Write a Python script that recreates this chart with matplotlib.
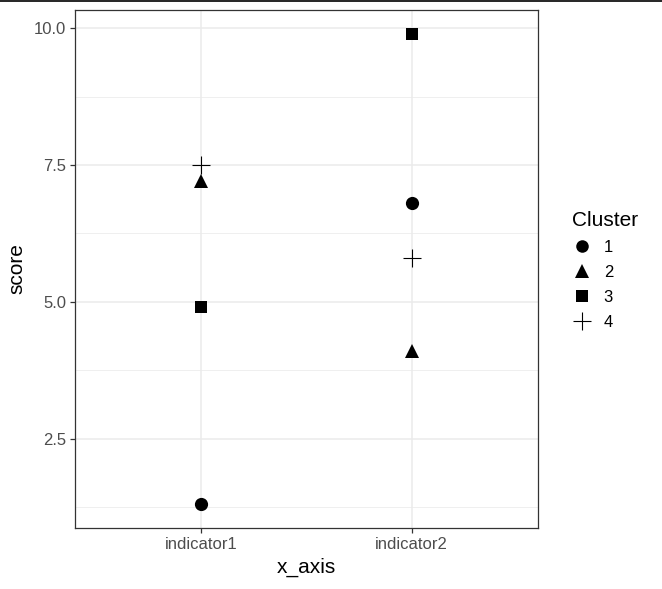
import numpy as np
import matplotlib
matplotlib.use('Agg')
import matplotlib.pyplot as plt
from matplotlib.lines import Line2D

plt.rcParams['font.family'] = ['Liberation Sans', 'DejaVu Sans']

indicators = ['indicator1', 'indicator2']
clusters = ['1', '2', '3', '4']
# score per cluster, for indicator1 / indicator2
scores = {
    '1': [1.3, 6.8],
    '2': [7.2, 4.1],
    '3': [4.9, 9.9],
    '4': [7.5, 5.8],
}
y_ticks = [2.5, 5.0, 7.5, 10.0]

markers = {'1': 'o', '2': '^', '3': 's', '4': '+'}
sizes = {'1': 9.5, '2': 10.5, '3': 8.8, '4': 13}

W, H = 662, 589
fig = plt.figure(figsize=(W / 100, H / 100), dpi=100, facecolor='white')
ax = fig.add_axes([75 / W, (H - 528) / H, 463 / W, 518 / H])

xpos = np.arange(1, len(indicators) + 1)
for c in clusters:
    ax.plot(xpos, scores[c], linestyle='none', marker=markers[c],
            markersize=sizes[c], color='black', markeredgewidth=0.8 if c == '4' else 0,
            zorder=3)

allv = np.concatenate([scores[c] for c in clusters])
lo, hi = allv.min(), allv.max()
pad = (hi - lo) * 0.05
ax.set_ylim(lo - pad, hi + pad)
ax.set_xlim(0.4, 2.6)

ax.set_xticks(xpos)
ax.set_xticklabels(indicators)
ax.set_yticks(y_ticks)
ax.set_yticklabels([f'{v:.1f}' for v in y_ticks])
minor = [(a + b) / 2 for a, b in zip(y_ticks[:-1], y_ticks[1:])] + [y_ticks[0] - 1.25]
ax.set_yticks(minor, minor=True)
ax.tick_params(axis='y', which='minor', length=0)

ax.grid(True, which='major', color='#EBEBEB', linewidth=1.1, zorder=0)
ax.grid(True, which='minor', axis='y', color='#EBEBEB', linewidth=0.55, zorder=0)
ax.set_axisbelow(True)
for s in ax.spines.values():
    s.set_color('#333333')
    s.set_linewidth(0.9)
ax.tick_params(axis='both', which='major', length=3.5, width=0.9, color='#333333',
               labelsize=12, labelcolor='#4D4D4D', pad=3)

ax.set_xlabel('x_axis', fontsize=15, color='black', labelpad=4)
ax.set_ylabel('score', fontsize=15, color='black', labelpad=5)

handles = [Line2D([], [], linestyle='none', marker=markers[c], markersize=sizes[c] * 0.95,
                  color='black', markeredgewidth=0.8 if c == '4' else 0) for c in clusters]
leg = fig.legend(handles, clusters, title='Cluster', loc='upper left',
                 bbox_to_anchor=(557 / W, 1 - 196 / H), frameon=False,
                 fontsize=12, title_fontsize=15, handlelength=1.2,
                 handletextpad=0.7, labelspacing=0.6, alignment='left')

# thin dark rule at the very top of the image
fig.add_artist(Line2D([0, 1], [1 - 0.8 / H, 1 - 0.8 / H], color='black', linewidth=1.2,
                      transform=fig.transFigure))

fig.savefig('out.png', dpi=100, facecolor='white')
